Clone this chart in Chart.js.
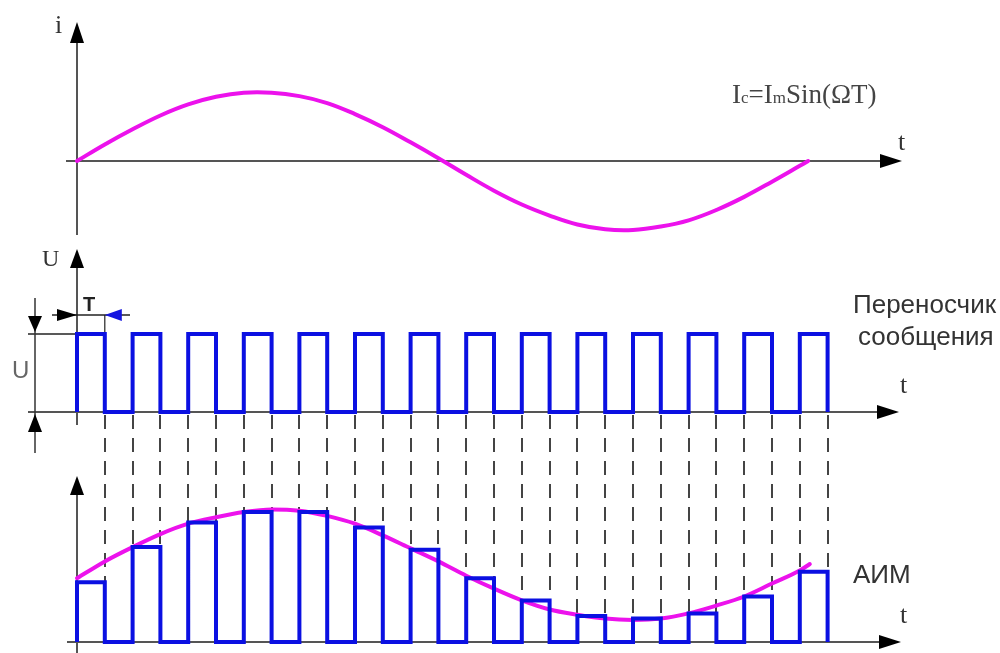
<!DOCTYPE html>
<html><head><meta charset="utf-8">
<script src="https://cdn.jsdelivr.net/npm/chart.js@4"></script>
<style>html,body{margin:0;padding:0;background:#fff}canvas{display:block}</style>
</head><body>
<canvas id="c" width="1000" height="653" style="width:1000px;height:653px"></canvas>
<script>
// ---------- DATA (time in carrier periods T) ----------
// Panel 1: message current i/Im
const sineT = [0,0.5,1,1.5,2,2.5,3,3.5,4,4.5,5,5.5,6,6.5,7,7.5,8,8.5,9,9.5,10,10.5,11,11.5,12,12.5,13,13.15];
const sineI = [0,0.24,0.46,0.66,0.82,0.93,0.99,0.99,0.94,0.84,0.68,0.49,0.27,0.04,-0.20,-0.43,-0.63,-0.79,-0.92,-0.99,-1.00,-0.95,-0.86,-0.71,-0.52,-0.30,-0.07,0];
// Panel 2: carrier pulse train
const pulseStarts = [0,1,2,3,4,5,6,7,8,9,10,11,12,13];
const pulseWidth = 0.5;
const carrierLevel = 1;
// Panel 3: PAM pulse amplitudes and envelope
const amPulse = [0.46,0.73,0.92,1.00,1.00,0.88,0.71,0.49,0.32,0.20,0.18,0.22,0.35,0.54];
const envT = [0,0.5,1,1.5,2,2.5,3,3.5,4,4.5,5,5.5,6,6.5,7,7.5,8,8.5,9,9.5,10,10.5,11,11.5,12,12.5,13,13.18];
const envV = [0.49,0.62,0.73,0.83,0.91,0.96,1.00,1.02,1.01,0.97,0.91,0.82,0.72,0.62,0.51,0.41,0.32,0.25,0.21,0.18,0.17,0.18,0.22,0.28,0.35,0.45,0.55,0.60];
// Labels
const labelI = 'i', labelT = 't', labelU = 'U', labelPeriod = 'T';
const carrierText = ['Переносчик', 'сообщения'];
const pamText = 'АИМ';

// ---------- LAYOUT ----------
const W = 1000, H = 653;
const X0PX = 77, TPX = 55.6;
function yRange(zeroPx, unitPx){ return {min: -(H - zeroPx) / unitPx, max: zeroPx / unitPx}; }
const MAG = '#EC12EC', BLUE = '#0B10E2', AX = '#555', INK = '#333';

const sineData = sineT.map((t, i) => ({x: t, y: sineI[i]}));
const carrierData = [];
pulseStarts.forEach(s => { carrierData.push({x:s,y:0},{x:s,y:carrierLevel},{x:s+pulseWidth,y:carrierLevel},{x:s+pulseWidth,y:0}); });
const amData = [];
pulseStarts.forEach((s, k) => { amData.push({x:s,y:0},{x:s,y:amPulse[k]},{x:s+pulseWidth,y:amPulse[k]},{x:s+pulseWidth,y:0}); });
const envData = envT.map((t, i) => ({x: t, y: envV[i]}));

function tri(ctx, tx, ty, dir, len, half, color){
  ctx.save(); ctx.fillStyle = color; ctx.beginPath();
  if (dir === 'up'){ ctx.moveTo(tx,ty); ctx.lineTo(tx-half,ty+len); ctx.lineTo(tx+half,ty+len); }
  else if (dir === 'down'){ ctx.moveTo(tx,ty); ctx.lineTo(tx-half,ty-len); ctx.lineTo(tx+half,ty-len); }
  else if (dir === 'right'){ ctx.moveTo(tx,ty); ctx.lineTo(tx-len,ty-half); ctx.lineTo(tx-len,ty+half); }
  else { ctx.moveTo(tx,ty); ctx.lineTo(tx+len,ty-half); ctx.lineTo(tx+len,ty+half); }
  ctx.closePath(); ctx.fill(); ctx.restore();
}
function line(ctx, x1, y1, x2, y2, color, w){
  ctx.save(); ctx.strokeStyle = color; ctx.lineWidth = w; ctx.beginPath();
  ctx.moveTo(x1,y1); ctx.lineTo(x2,y2); ctx.stroke(); ctx.restore();
}

const decor = {
  id: 'decor',
  beforeDatasetsDraw(chart){
    const ctx = chart.ctx, s = chart.scales;
    const ax = s.x.getPixelForValue(0);
    const z1 = s.y1.getPixelForValue(0), z2 = s.y2.getPixelForValue(0), z3 = s.y3.getPixelForValue(0);
    const top2 = s.y2.getPixelForValue(carrierLevel);
    // dashed guides
    ctx.save(); ctx.strokeStyle = '#444'; ctx.lineWidth = 2; ctx.setLineDash([14, 9]);
    pulseStarts.forEach((st, k) => {
      [st, st + pulseWidth].forEach(e => {
        if (e === 0) return;
        const px = Math.round(s.x.getPixelForValue(e));
        ctx.beginPath(); ctx.moveTo(px, z2 + 3); ctx.lineTo(px, s.y3.getPixelForValue(amPulse[k])); ctx.stroke();
      });
    });
    ctx.restore();
    // axes panel 1
    line(ctx, ax, 40, ax, 235, AX, 2);
    line(ctx, 66, z1, 885, z1, AX, 2);
    tri(ctx, ax, 22, 'up', 21, 7, '#000');
    tri(ctx, 902, z1, 'right', 22, 7, '#000');
    // axes panel 2
    line(ctx, ax, 265, ax, 425, AX, 2);
    line(ctx, 28, z2, 880, z2, AX, 2);
    line(ctx, 28, top2, ax, top2, '#222', 1.5);
    tri(ctx, ax, 249, 'up', 19, 7, '#000');
    tri(ctx, 899, z2, 'right', 22, 7, '#000');
    // U dimension
    line(ctx, 35, 298, 35, 453, '#333', 1.5);
    tri(ctx, 35, top2 - 2, 'down', 16, 7, '#000');
    tri(ctx, 35, z2 + 2, 'up', 18, 7, '#000');
    // T dimension
    const tEnd = s.x.getPixelForValue(pulseWidth);
    line(ctx, 52, 315, 130, 315, '#222', 1.5);
    line(ctx, tEnd, 315, tEnd, top2, '#222', 1.2);
    tri(ctx, ax, 315, 'right', 20, 6, '#000');
    tri(ctx, tEnd, 315, 'left', 17, 6, '#1515e0');
    // axes panel 3
    line(ctx, ax, 490, ax, 653, AX, 2);
    line(ctx, 67, z3, 880, z3, AX, 2);
    tri(ctx, ax, 476, 'up', 19, 7, '#000');
    tri(ctx, 901, z3, 'right', 22, 7, '#000');
  },
  afterDraw(chart){
    const ctx = chart.ctx;
    ctx.save(); ctx.textAlign = 'left'; ctx.textBaseline = 'alphabetic';
    ctx.fillStyle = INK;
    ctx.font = '26px "Liberation Serif", serif';
    ctx.fillText(labelI, 55, 33);
    ctx.fillText(labelT, 898, 150);
    ctx.fillText(labelT, 900, 393);
    ctx.fillText(labelT, 900, 623);
    ctx.font = '24px "Liberation Serif", serif';
    ctx.fillText(labelU, 42, 266);
    ctx.fillStyle = '#666';
    ctx.font = '24px "Liberation Sans", sans-serif';
    ctx.fillText(labelU, 12, 378);
    ctx.fillStyle = '#222';
    ctx.font = 'bold 20px "Liberation Sans", sans-serif';
    ctx.fillText(labelPeriod, 83, 311);
    // formula Ic=ImSin(ΩT)
    ctx.fillStyle = '#444';
    const parts = [['I',27],['c',17],['=I',27],['m',17],['Sin(ΩT)',27]];
    let x = 732;
    parts.forEach(([txt, sz]) => {
      ctx.font = sz + 'px "Liberation Serif", serif';
      ctx.fillText(txt, x, 103);
      x += ctx.measureText(txt).width;
    });
    ctx.fillStyle = INK;
    ctx.font = '26px "Liberation Sans", sans-serif';
    ctx.fillText(carrierText[0], 853, 313);
    ctx.fillText(carrierText[1], 858, 345);
    ctx.font = '26px "Liberation Sans", sans-serif';
    ctx.fillText(pamText, 853, 583);
    ctx.restore();
  }
};

new Chart(document.getElementById('c'), {
  type: 'line',
  data: { datasets: [
    { data: amData, yAxisID: 'y3', borderColor: BLUE, borderWidth: 4, pointRadius: 0, tension: 0, borderJoinStyle: 'miter', order: 1 },
    { data: carrierData, yAxisID: 'y2', borderColor: BLUE, borderWidth: 4, pointRadius: 0, tension: 0, borderJoinStyle: 'miter', order: 1 },
    { data: envData, yAxisID: 'y3', borderColor: MAG, borderWidth: 4, pointRadius: 0, cubicInterpolationMode: 'monotone', borderCapStyle: 'round', order: 2 },
    { data: sineData, yAxisID: 'y1', borderColor: MAG, borderWidth: 4, pointRadius: 0, tension: 0.4, borderCapStyle: 'round', order: 2 }
  ]},
  options: {
    responsive: false, animation: false, events: [],
    layout: { padding: 0 },
    plugins: { legend: { display: false }, tooltip: { enabled: false } },
    scales: {
      x: { type: 'linear', display: false, min: -X0PX / TPX, max: (W - X0PX) / TPX },
      y1: { type: 'linear', display: false, ...yRange(161, 69) },
      y2: { type: 'linear', display: false, ...yRange(412, 78) },
      y3: { type: 'linear', display: false, ...yRange(642, 130) }
    }
  },
  plugins: [decor]
});
</script>
</body></html>
